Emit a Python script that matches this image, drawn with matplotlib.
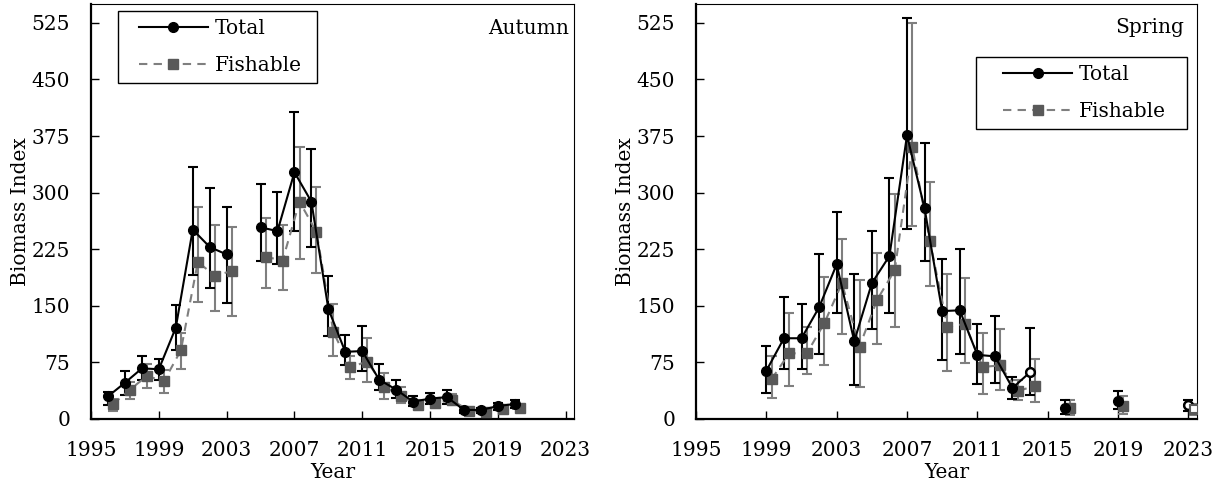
import numpy as np
import matplotlib
matplotlib.use('Agg')
import matplotlib.pyplot as plt
from matplotlib.lines import Line2D
from matplotlib.legend_handler import HandlerLine2D

nan = np.nan
plt.rcParams['font.family'] = ['DejaVu Serif']
plt.rcParams['font.size'] = 14.5

# Autumn survey (1996-2020), 2004 missing
autumn_years = list(range(1996, 2021))
autumn_total = [30, 48, 67, 66, 121, 251, 228, 218, nan, 254, 249, 327, 288, 146, 89, 90,
                52, 39, 23, 27, 29, 12, 12, 17, 20]
autumn_total_lo = [19, 32, 51, 52, 92, 191, 174, 154, nan, 209, 205, 249, 228, 110, 71, 63,
                   38, 28, 17, 20, 20, 8, 8, 12, 14]
autumn_total_hi = [36, 63, 84, 80, 151, 334, 306, 281, nan, 311, 301, 407, 358, 190, 111, 123,
                   73, 52, 30, 35, 39, 16, 15, 21, 25]
autumn_fish = [20, 39, 57, 50, 91, 208, 190, 196, nan, 215, 210, 288, 248, 115, 69, 76,
               43, 30, 19, 21, 25, 11, 9, 13, 14]
autumn_fish_lo = [11, 26, 41, 35, 66, 155, 143, 137, nan, 174, 171, 212, 193, 83, 53, 49,
                  27, 21, 13, 15, 18, 7, 6, 9, 9]
autumn_fish_hi = [27, 49, 73, 65, 114, 281, 257, 255, nan, 266, 257, 360, 307, 153, 84, 107,
                  61, 43, 25, 28, 33, 14, 12, 17, 19]

# Spring survey (1999-2023), gaps where no survey
spring_years = list(range(1999, 2024))
spring_total = [64, 107, 107, 148, 205, 103, 180, 216, 376, 279, 143, 144, 85, 83, 41, 62,
                nan, 15, nan, nan, 24, nan, nan, nan, 18]
spring_total_lo = [35, 66, 66, 86, 140, 45, 119, 140, 252, 209, 78, 86, 47, 48, 27, 32,
                   nan, 7, nan, nan, 13, nan, nan, nan, 10]
spring_total_hi = [97, 162, 152, 218, 274, 192, 249, 320, 532, 366, 212, 225, 126, 137, 56, 120,
                   nan, 25, nan, nan, 37, nan, nan, nan, 25]
spring_fish = [53, 87, 87, 127, 180, 96, 158, 197, 361, 236, 122, 126, 69, 71, 37, 44,
               nan, 14, nan, nan, 17, nan, nan, nan, 13]
spring_fish_lo = [28, 44, 59, 71, 113, 42, 100, 122, 256, 176, 64, 74, 33, 38, 25, 23,
                  nan, 5, nan, nan, 7, nan, nan, nan, 5]
spring_fish_hi = [83, 141, 122, 188, 238, 184, 220, 298, 525, 314, 192, 187, 114, 119, 52, 80,
                  nan, 25, nan, nan, 30, nan, nan, nan, 20]
spring_total_open = [2014, 2023]
spring_fish_open = [2023]

FISH_SHIFT = 0.3
BLACK = 'black'
GREY = '#7f7f7f'
SQ = '#595959'


def draw_panel(ax, years, tot, tlo, thi, fish, flo, fhi, open_t=(), open_f=()):
    x = np.array(years, dtype=float)
    xf = x + FISH_SHIFT
    tot = np.array(tot, dtype=float)
    fish = np.array(fish, dtype=float)
    terr = [tot - np.array(tlo, dtype=float), np.array(thi, dtype=float) - tot]
    ferr = [fish - np.array(flo, dtype=float), np.array(fhi, dtype=float) - fish]

    ax.errorbar(xf, fish, yerr=ferr, fmt='none', ecolor=GREY, elinewidth=1.5,
                capsize=3.5, capthick=1.5, zorder=2)
    ax.errorbar(x, tot, yerr=terr, fmt='none', ecolor=BLACK, elinewidth=1.5,
                capsize=3.5, capthick=1.5, zorder=3)
    fl, = ax.plot(xf, fish, color=GREY, ls=(0, (4, 3)), lw=1.5, marker='s', ms=7,
                  mfc=SQ, mec=SQ, zorder=4, label='Fishable')
    tl, = ax.plot(x, tot, color=BLACK, lw=1.5, marker='o', ms=7, zorder=5, label='Total')

    # open symbols
    for yr in open_t:
        i = years.index(yr)
        ax.plot(x[i], tot[i], marker='o', ms=6, mfc='white', mec=BLACK, mew=1.5, zorder=6)
    for yr in open_f:
        i = years.index(yr)
        ax.plot(xf[i], fish[i], marker='s', ms=6, mfc='white', mec=SQ, mew=1.5, zorder=6)

    ax.set_xlim(1995, 2023.5)
    ax.set_ylim(0, 550)
    ax.set_xticks(range(1995, 2024, 4))
    ax.set_yticks(range(0, 526, 75))
    ax.tick_params(direction='in', length=5.5, width=1, top=False, right=False)
    ax.tick_params(axis='x', pad=16)
    ax.tick_params(axis='y', pad=15)
    ax.set_xlabel('Year', labelpad=2)
    ax.set_ylabel('Biomass Index', labelpad=1)
    for s in ['left', 'bottom']:
        ax.spines[s].set_linewidth(1.6)
    for s in ['top', 'right']:
        ax.spines[s].set_linewidth(0.8)
    return tl, fl


def add_legend(ax, handles, anchor, xpad):
    leg = ax.legend(handles=handles, loc='upper left', bbox_to_anchor=anchor, mode='expand',
                    borderaxespad=0, fancybox=False, edgecolor='black', framealpha=1,
                    handlelength=3.4 + xpad, handletextpad=0.35, labelspacing=0.9,
                    borderpad=0.4, handler_map={Line2D: HandlerLine2D(xpad=xpad)})
    leg.get_frame().set_linewidth(1.0)
    return leg


fig = plt.figure(figsize=(12.22, 4.86), dpi=100)
ax1 = fig.add_axes([0.0745, 0.1379, 0.3953, 0.8539])
ax2 = fig.add_axes([0.5696, 0.1379, 0.41, 0.8539])

tl, fl = draw_panel(ax1, autumn_years, autumn_total, autumn_total_lo, autumn_total_hi,
                    autumn_fish, autumn_fish_lo, autumn_fish_hi)
ax1.text(0.99, 0.942, 'Autumn', ha='right', va='center', transform=ax1.transAxes)
add_legend(ax1, [tl, fl], (0.056, 0.983, 0.412, 0), 0.65)

tl, fl = draw_panel(ax2, spring_years, spring_total, spring_total_lo, spring_total_hi,
                    spring_fish, spring_fish_lo, spring_fish_hi,
                    spring_total_open, spring_fish_open)
ax2.text(0.974, 0.944, 'Spring', ha='right', va='center', transform=ax2.transAxes)
add_legend(ax2, [tl, fl], (0.559, 0.873, 0.421, 0), 0.95)

fig.savefig('out.png', dpi=100)
